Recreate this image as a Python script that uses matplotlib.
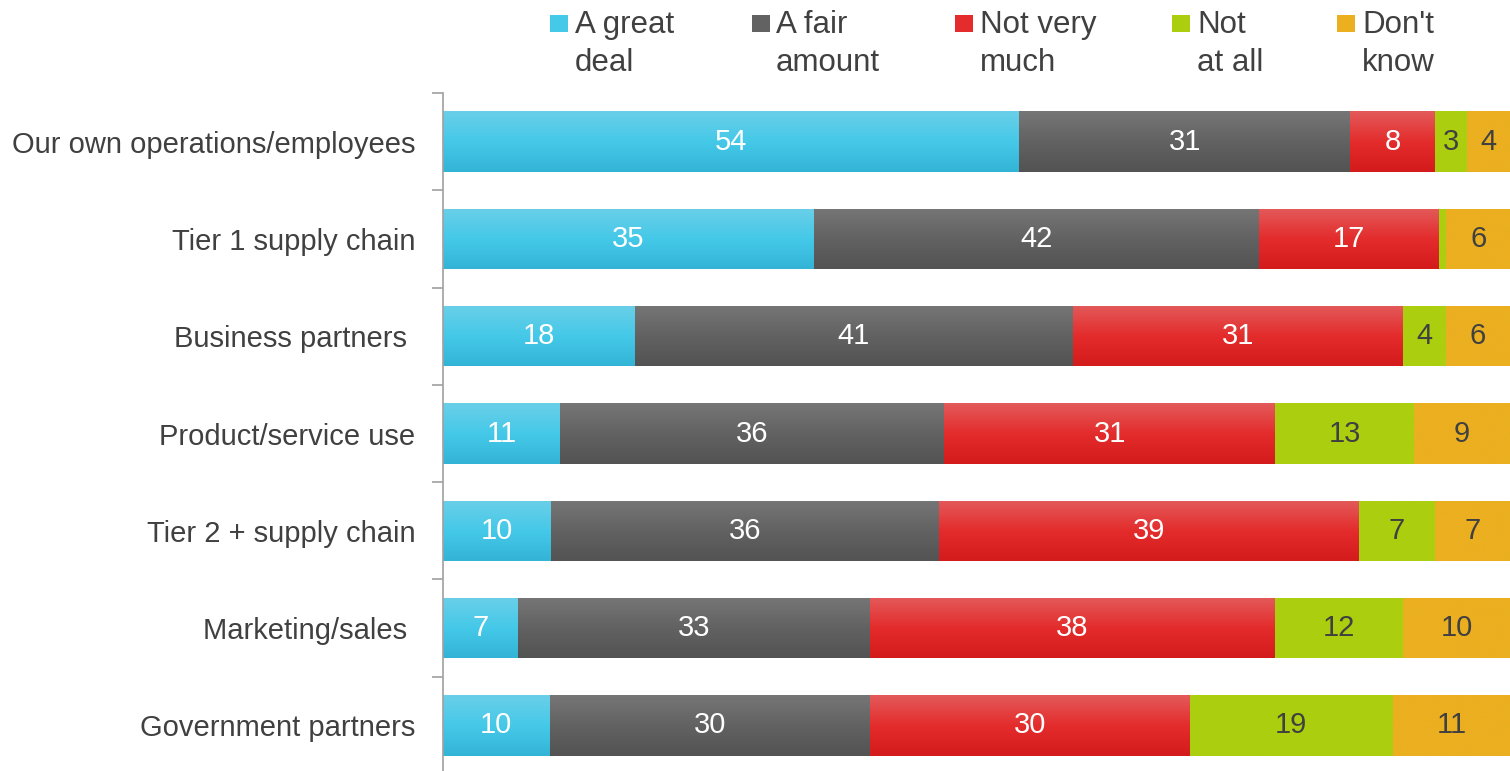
import numpy as np
import matplotlib.pyplot as plt
from matplotlib.colors import LinearSegmentedColormap
from matplotlib.patches import Rectangle

plt.rcParams['font.family'] = ['Liberation Sans', 'DejaVu Sans']

# survey responses, share of respondents (%)
categories = ["Our own operations/employees", "Tier 1 supply chain", "Business partners ",
              "Product/service use", "Tier 2 + supply chain", "Marketing/sales ",
              "Government partners"]
series_names = ["A great\ndeal", "A fair\namount", "Not very\nmuch", "Not\nat all", "Don't\nknow"]
great_deal = [54, 35, 18, 11, 10, 7, 10]
fair_amount = [31, 42, 41, 36, 36, 33, 30]
not_very_much = [8, 17, 31, 31, 39, 38, 30]
not_at_all = [3, 0.7, 4, 13, 7, 12, 19]
dont_know = [4, 6, 6, 9, 7, 10, 11]

# (top, middle, bottom) shades for each series and text colour for the values
shades = [("#6ACFE8", "#45C9E9", "#33B4D6"),
          ("#767676", "#626262", "#535353"),
          ("#E35A5A", "#E42C2C", "#D41B1B"),
          ("#ABCE0F", "#ABCE0F", "#ABCE0F"),
          ("#EBAF20", "#EBAF20", "#EBAF20")]
value_colors = ["white", "white", "white", "#404040", "#404040"]
text_color = "#404040"

# 100% stacked: each row scaled to its total
data = np.array([great_deal, fair_amount, not_very_much, not_at_all, dont_know], dtype=float)
shares = data / data.sum(axis=0) * 100

W, H = 1510, 771
fig = plt.figure(figsize=(W / 100, H / 100), dpi=100)
ax = fig.add_axes([443 / W, -3 / H, 1 - 443 / W, 681 / H])

y = np.arange(len(categories))
left = np.zeros(len(categories))
for k in range(len(series_names)):
    bars = ax.barh(y, shares[k], left=left, height=0.62, color=shades[k][1], linewidth=0)
    cmap = LinearSegmentedColormap.from_list("s%d" % k, shades[k])
    grad = np.linspace(0, 1, 64).reshape(-1, 1)
    for i, bar in enumerate(bars):
        x0, y0 = bar.get_x(), bar.get_y()
        w, h = bar.get_width(), bar.get_height()
        if w <= 0:
            continue
        im = ax.imshow(grad, cmap=cmap, aspect="auto", interpolation="bilinear",
                       extent=(x0, x0 + w, y0 + h, y0), zorder=bar.get_zorder())
        im.set_clip_path(bar)
        if data[k, i] >= 1:
            ax.text(x0 + w / 2, y[i], "%d" % data[k, i], ha="center", va="center",
                    fontsize=21, color=value_colors[k], zorder=5)
    left += shares[k]

ax.set_xlim(0, 100)
ax.set_ylim(len(categories) - 0.5, -0.5)
ax.set_yticks(y)
ax.set_yticklabels(categories, fontsize=21, color=text_color)
ax.tick_params(axis="y", which="major", length=0, pad=20)
ax.set_yticks(np.arange(len(categories) + 1) - 0.5, minor=True)
ax.tick_params(axis="y", which="minor", length=8, width=1.2, color="#A0A0A0")
ax.set_xticks([])
for side in ["top", "right", "bottom"]:
    ax.spines[side].set_visible(False)
ax.spines["left"].set_color("#A0A0A0")
ax.spines["left"].set_linewidth(1.2)

# legend laid out across the top, one text per line
square_x = [550, 752, 955, 1172, 1337]
label_x = [575, 776, 980, 1197, 1362]
for k, name in enumerate(series_names):
    fig.patches.append(Rectangle((square_x[k] / W, 1 - 32 / H), 18 / W, 17 / H,
                                 transform=fig.transFigure, color=shades[k][1], linewidth=0))
    for j, line in enumerate(name.split("\n")):
        fig.text(label_x[k] / W, 1 - (33 + 38 * j) / H, line, ha="left", va="baseline",
                 fontsize=22.5, color=text_color)

fig.savefig("out.png", dpi=100)
